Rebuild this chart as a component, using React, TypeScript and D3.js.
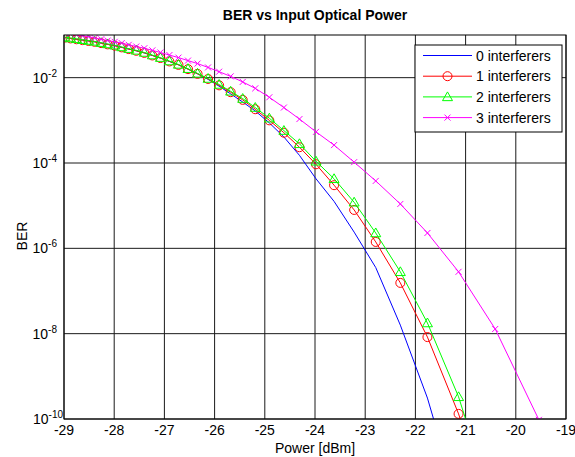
import React from "react";
import * as d3 from "d3";

// Input optical power (dBm) at which each series was sampled
const power = [
  -28.98, -28.87, -28.75, -28.63, -28.51, -28.39, -28.26, -28.13, -27.99, -27.85,
  -27.71, -27.56, -27.4, -27.24, -27.08, -26.9, -26.72, -26.53, -26.34, -26.13,
  -25.91, -25.68, -25.44, -25.19, -24.91, -24.62, -24.31, -23.98, -23.62, -23.22,
  -22.79, -22.3, -21.76, -21.14, -20.41, -19.54,
];

// log10(BER) values
const logBer0 = [
  -1.06, -1.08, -1.1, -1.12, -1.14, -1.16, -1.19, -1.22, -1.25, -1.29,
  -1.33, -1.37, -1.42, -1.48, -1.54, -1.62, -1.7, -1.8, -1.91, -2.04,
  -2.2, -2.38, -2.57, -2.78, -3.06, -3.39, -3.82, -4.37, -4.9, -5.62,
  -6.45, -7.8, -9.51, -12.0,
];
const logBer1 = [
  -1.06, -1.08, -1.1, -1.12, -1.14, -1.16, -1.19, -1.22, -1.25, -1.29,
  -1.33, -1.37, -1.42, -1.48, -1.54, -1.62, -1.7, -1.8, -1.91, -2.03,
  -2.18, -2.34, -2.52, -2.74, -3.0, -3.29, -3.63, -4.03, -4.52, -5.1,
  -5.85, -6.81, -8.08, -9.88, -12.5,
];
const logBer2 = [
  -1.05, -1.07, -1.09, -1.11, -1.13, -1.15, -1.18, -1.21, -1.24, -1.28,
  -1.32, -1.36, -1.41, -1.47, -1.53, -1.61, -1.69, -1.79, -1.9, -2.02,
  -2.16, -2.32, -2.49, -2.7, -2.95, -3.24, -3.55, -3.96, -4.37, -4.92,
  -5.64, -6.55, -7.75, -9.48, -12.2,
];
const logBer3 = [
  -0.95, -0.97, -0.99, -1.02, -1.04, -1.07, -1.1, -1.13, -1.16, -1.19,
  -1.23, -1.27, -1.31, -1.36, -1.41, -1.47, -1.53, -1.6, -1.67, -1.76,
  -1.86, -1.97, -2.1, -2.25, -2.46, -2.7, -2.97, -3.27, -3.58, -3.98,
  -4.42, -4.96, -5.64, -6.55, -7.89, -10.02,
];

const seriesNames = ["0 interferers", "1 interferers", "2 interferers", "3 interferers"];
const seriesColors = ["#0000ff", "#ff0000", "#00ff00", "#ff00ff"];
const seriesMarkers = ["none", "circle", "triangle", "x"];
const seriesLogs = [logBer0, logBer1, logBer2, logBer3];

const xTicks = [-29, -28, -27, -26, -25, -24, -23, -22, -21, -20, -19];
const yTickExps = [-2, -4, -6, -8, -10];

const W = 575;
const H = 457;
const M = { left: 64, right: 566, top: 35, bottom: 419 };
const FONT = "'Liberation Sans', Arial, Helvetica, sans-serif";

function Marker({ kind, x, y, color }: { kind: string; x: number; y: number; color: string }) {
  if (kind === "circle") {
    return <circle cx={x} cy={y} r={4.5} fill="none" stroke={color} strokeWidth={1} />;
  }
  if (kind === "triangle") {
    const s = 5;
    return (
      <path
        d={`M${x},${y - s} L${x + s},${y + s * 0.75} L${x - s},${y + s * 0.75} Z`}
        fill="none"
        stroke={color}
        strokeWidth={1}
      />
    );
  }
  if (kind === "x") {
    const s = 3;
    return (
      <path
        d={`M${x - s},${y - s} L${x + s},${y + s} M${x - s},${y + s} L${x + s},${y - s}`}
        stroke={color}
        strokeWidth={1}
      />
    );
  }
  return null;
}

export default function App() {
  const x = d3.scaleLinear().domain([-29, -19]).range([M.left, M.right]);
  const y = d3.scaleLog().domain([1e-10, 1e-1]).range([M.bottom, M.top]);

  const line = d3
    .line<[number, number]>()
    .x((d) => x(d[0]))
    .y((d) => y(d[1]));

  const series = seriesLogs.map((logs, i) => ({
    name: seriesNames[i],
    color: seriesColors[i],
    marker: seriesMarkers[i],
    pts: logs.map((l, j) => [power[j], Math.pow(10, l)] as [number, number]),
  }));

  const legendX = 415;
  const legendY = 45;
  const legendW = 147;
  const legendH = 87;
  const rowY0 = 55.5;
  const rowStep = 20.7;

  return (
    <svg
      width={W}
      height={H}
      style={{ position: "absolute", left: 0, top: 0, background: "#fff" }}
      fontFamily={FONT}
    >
      <defs>
        <clipPath id="plotClip">
          <rect x={M.left} y={M.top} width={M.right - M.left} height={M.bottom - M.top} />
        </clipPath>
      </defs>
      <rect x={0} y={0} width={W} height={H} fill="#fff" />

      {/* grid */}
      {xTicks.map((t) => (
        <line key={"gx" + t} x1={x(t)} x2={x(t)} y1={M.top} y2={M.bottom} stroke="#1a1a1a" strokeWidth={1} />
      ))}
      {yTickExps.map((e) => (
        <line
          key={"gy" + e}
          x1={M.left}
          x2={M.right}
          y1={y(Math.pow(10, e))}
          y2={y(Math.pow(10, e))}
          stroke="#1a1a1a"
          strokeWidth={1}
        />
      ))}

      {/* series */}
      <g clipPath="url(#plotClip)">
        {series.map((s) => (
          <g key={s.name}>
            <path d={line(s.pts) || ""} fill="none" stroke={s.color} strokeWidth={1} />
            {s.marker !== "none" &&
              s.pts.map((p, j) => (
                <Marker key={j} kind={s.marker} x={x(p[0])} y={y(p[1])} color={s.color} />
              ))}
          </g>
        ))}
      </g>

      {/* axes box */}
      <rect
        x={M.left}
        y={M.top}
        width={M.right - M.left}
        height={M.bottom - M.top}
        fill="none"
        stroke="#000"
        strokeWidth={1}
      />

      {/* x tick labels */}
      {xTicks.map((t) => (
        <text key={"xt" + t} x={x(t)} y={435} textAnchor="middle" fontSize={14} fill="#000">
          {t}
        </text>
      ))}

      {/* y tick labels */}
      {yTickExps.map((e) => (
        <text
          key={"yt" + e}
          x={e === -10 ? 63 : 57}
          y={y(Math.pow(10, e)) + 5}
          textAnchor="end"
          fontSize={14}
          fill="#000"
        >
          10
          <tspan dy={-6} fontSize={10}>
            {e}
          </tspan>
        </text>
      ))}

      {/* titles */}
      <text x={(M.left + M.right) / 2} y={20} textAnchor="middle" fontSize={14} fontWeight="bold" fill="#000">
        BER vs Input Optical Power
      </text>
      <text x={(M.left + M.right) / 2} y={453} textAnchor="middle" fontSize={14} fill="#000">
        Power [dBm]
      </text>
      <text
        transform={`translate(27, 236) rotate(-90)`}
        textAnchor="middle"
        fontSize={14}
        fill="#000"
      >
        BER
      </text>

      {/* legend */}
      <rect x={legendX} y={legendY} width={legendW} height={legendH} fill="#fff" stroke="#000" strokeWidth={1} />
      {series.map((s, i) => {
        const ry = rowY0 + i * rowStep;
        return (
          <g key={"lg" + i}>
            <line x1={423} x2={472} y1={ry} y2={ry} stroke={s.color} strokeWidth={1} />
            <Marker kind={s.marker} x={447.5} y={ry} color={s.color} />
            <text x={476} y={ry + 5} fontSize={14} fill="#000">
              {s.name}
            </text>
          </g>
        );
      })}
    </svg>
  );
}
